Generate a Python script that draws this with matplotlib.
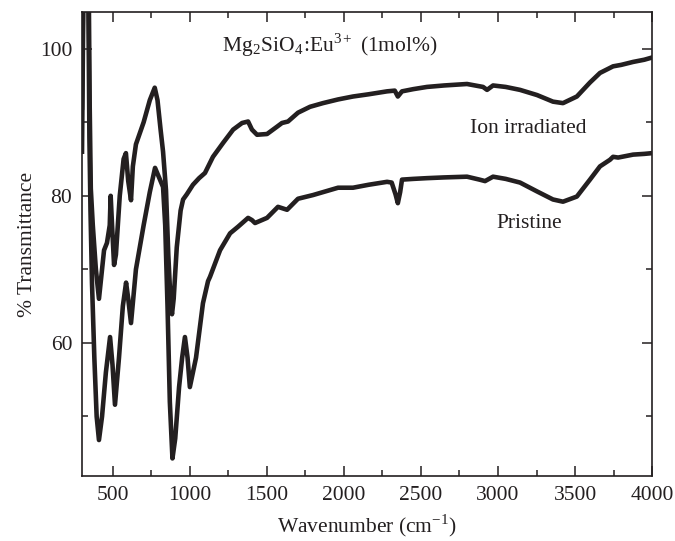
import numpy as np
import matplotlib
matplotlib.use("Agg")
import matplotlib.pyplot as plt
from matplotlib.ticker import MultipleLocator

plt.rcParams['font.family'] = ['Liberation Serif', 'DejaVu Serif']
plt.rcParams['mathtext.fontset'] = 'stix'

# FTIR spectra (wavenumber in cm^-1, % transmittance)
ion_wn = [300, 308, 343, 350, 357, 370, 390, 410, 425, 443, 462, 480, 486, 495, 508,
          520, 545, 570, 585, 600, 618, 630, 650, 700, 740, 772, 790, 810, 826, 845,
          860, 875, 884, 895, 915, 940, 956, 980, 1020, 1060, 1098, 1150, 1216, 1281,
          1339, 1378, 1403, 1436, 1501, 1566, 1598, 1637, 1702, 1780, 1864, 1962,
          2059, 2160, 2280, 2330, 2350, 2377, 2450, 2539, 2650, 2799, 2903, 2929,
          2968, 3050, 3143, 3253, 3357, 3422, 3512, 3597, 3662, 3747, 3800, 3877, 3950, 4000]
ion_t = [92, 110, 110, 92, 81, 76, 70, 66, 69, 72.6, 73.6, 76, 80, 76, 70.6,
         72, 80, 85, 85.8, 82, 79.4, 84, 87, 90, 93, 94.7, 93, 89, 86, 80.8,
         72, 65.5, 63.9, 66, 73, 78, 79.5, 80.2, 81.5, 82.4, 83.1, 85.3, 87.2, 89,
         89.9, 90.1, 89, 88.3, 88.4, 89.4, 89.9, 90.1, 91.3, 92.1, 92.6, 93.1,
         93.5, 93.8, 94.2, 94.3, 93.5, 94.2, 94.5, 94.8, 95.0, 95.2, 94.8, 94.4,
         95.0, 94.8, 94.4, 93.7, 92.8, 92.6, 93.5, 95.4, 96.7, 97.6, 97.8, 98.2, 98.5, 98.8]

pri_wn = [300, 310, 340, 348, 355, 365, 380, 395, 410, 430, 455, 482, 498, 514,
          540, 565, 586, 600, 618, 650, 700, 740, 774, 800, 826, 840, 855, 870, 887,
          905, 930, 950, 968, 985, 1000, 1040, 1085, 1118, 1131, 1196, 1261, 1313,
          1378, 1403, 1423, 1501, 1572, 1631, 1702, 1799, 1962, 2059, 2160, 2280,
          2310, 2335, 2350, 2365, 2377, 2450, 2539, 2650, 2799, 2880, 2916, 2968,
          3050, 3143, 3253, 3357, 3422, 3512, 3597, 3662, 3727, 3747, 3780, 3877, 3950, 4000]
pri_t = [86, 110, 110, 88, 78, 68, 58, 50, 46.8, 50, 56, 60.8, 57, 51.6,
         58, 65, 68.2, 66, 62.7, 70, 76, 80.5, 83.8, 82.5, 81.2, 76, 65, 52, 44.3,
         47, 54, 58, 60.8, 58, 54, 58, 65.4, 68.4, 69, 72.6, 74.9, 75.8,
         77, 76.7, 76.3, 77, 78.5, 78.1, 79.6, 80.1, 81.1, 81.1, 81.5, 81.9,
         81.8, 80.2, 79.0, 80.5, 82.2, 82.3, 82.4, 82.5, 82.6, 82.2, 82.0, 82.6,
         82.3, 81.8, 80.6, 79.5, 79.2, 79.9, 82.2, 84.0, 84.9, 85.3, 85.2, 85.6, 85.7, 85.8]

ink = '#231f20'

fig = plt.figure(figsize=(6.75, 5.41), dpi=100)
ax = fig.add_axes([0.1215, 0.12, 0.8445, 0.858])

ax.plot(ion_wn, ion_t, color=ink, lw=3.3, solid_joinstyle='round')
ax.plot(pri_wn, pri_t, color=ink, lw=3.3, solid_joinstyle='round')

ax.set_xlim(300, 4000)
ax.set_ylim(41.9, 105)
ax.set_xticks([500, 1000, 1500, 2000, 2500, 3000, 3500, 4000])
ax.xaxis.set_minor_locator(MultipleLocator(250))
ax.set_yticks([60, 80, 100])
ax.yaxis.set_minor_locator(MultipleLocator(10))
ax.tick_params(which='both', direction='in', top=True, right=True,
               labelsize=15.5, colors=ink, width=1.1)
ax.tick_params(which='major', length=7.5, pad=7)
ax.tick_params(which='minor', length=4)
for s in ax.spines.values():
    s.set_linewidth(1.2)
    s.set_color(ink)

ax.set_xlabel('Wavenumber (cm$^{\\mathregular{-1}}$)', fontsize=15.5, color=ink, labelpad=6)
ax.set_ylabel('% Transmittance', fontsize=15.5, color=ink, labelpad=2)

fig.text(222 / 675, 1 - 45 / 541,
         'Mg$_\\mathregular{2}$SiO$_\\mathregular{4}$:Eu$^{\\mathregular{3+}}$ (1mol%)',
         fontsize=15.5, color=ink, va='center', ha='left')
ax.text(2818, 89.2, 'Ion irradiated', fontsize=15.5, color=ink, ha='left', va='center')
ax.text(2993, 76.2, 'Pristine', fontsize=15.5, color=ink, ha='left', va='center')

fig.savefig('out.png', dpi=100)
